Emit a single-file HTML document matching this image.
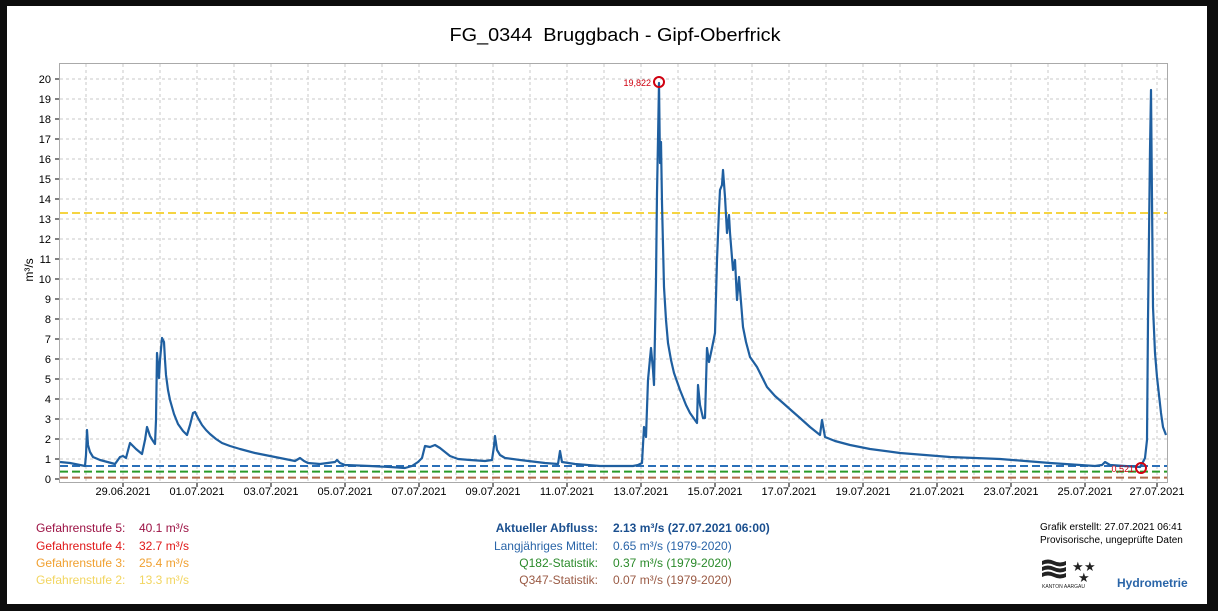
<!DOCTYPE html>
<html><head><meta charset="utf-8"><style>
html,body{margin:0;padding:0;background:#0d0d0d;}
svg{display:block;font-family:"Liberation Sans",Arial,sans-serif;}
</style></head><body>
<svg width="1218" height="611" viewBox="0 0 1218 611" xmlns="http://www.w3.org/2000/svg">
<rect x="0" y="0" width="1218" height="611" fill="#0d0d0d"/>
<rect x="7" y="6" width="1200" height="598" fill="#fff"/>
<text x="615" y="41" font-size="18.5" text-anchor="middle" fill="#000" textLength="331" lengthAdjust="spacingAndGlyphs" xml:space="preserve">FG_0344  Bruggbach - Gipf-Oberfrick</text>
<rect x="59.5" y="63.5" width="1108" height="419" fill="#fff" stroke="#aaa" stroke-width="1"/>
<g stroke="#c8c8c8" stroke-width="1" stroke-dasharray="3,3">
<path d="M60 79H1167M60 99H1167M60 119H1167M60 139H1167M60 159H1167M60 179H1167M60 199H1167M60 219H1167M60 239H1167M60 259H1167M60 279H1167M60 299H1167M60 319H1167M60 339H1167M60 359H1167M60 379H1167M60 399H1167M60 419H1167M60 439H1167M60 459H1167"/>
<path d="M86 64V482M123 64V482M160 64V482M197 64V482M234 64V482M271 64V482M308 64V482M345 64V482M382 64V482M419 64V482M456 64V482M493 64V482M530 64V482M567 64V482M604 64V482M641 64V482M678 64V482M715 64V482M752 64V482M789 64V482M826 64V482M863 64V482M900 64V482M937 64V482M974 64V482M1011 64V482M1048 64V482M1085 64V482M1122 64V482M1157 64V482"/>
</g>
<g font-size="11" fill="#000" text-anchor="end">
<text x="51" y="83">20</text><text x="51" y="103">19</text><text x="51" y="123">18</text><text x="51" y="143">17</text><text x="51" y="163">16</text><text x="51" y="183">15</text><text x="51" y="203">14</text><text x="51" y="223">13</text><text x="51" y="243">12</text><text x="51" y="263">11</text><text x="51" y="283">10</text><text x="51" y="303">9</text><text x="51" y="323">8</text><text x="51" y="343">7</text><text x="51" y="363">6</text><text x="51" y="383">5</text><text x="51" y="403">4</text><text x="51" y="423">3</text><text x="51" y="443">2</text><text x="51" y="463">1</text><text x="51" y="483">0</text>
</g>
<g stroke="#000" stroke-width="1"><path d="M55 79h4M55 99h4M55 119h4M55 139h4M55 159h4M55 179h4M55 199h4M55 219h4M55 239h4M55 259h4M55 279h4M55 299h4M55 319h4M55 339h4M55 359h4M55 379h4M55 399h4M55 419h4M55 439h4M55 459h4M55 479h4"/>
<path d="M123 483v4M197 483v4M271 483v4M345 483v4M419 483v4M493 483v4M567 483v4M641 483v4M715 483v4M789 483v4M863 483v4M937 483v4M1011 483v4M1085 483v4M1157 483v4"/></g>
<text transform="translate(33,270) rotate(-90)" font-size="12" text-anchor="middle">m³/s</text>
<g font-size="11" text-anchor="middle" fill="#000">
<text x="123" y="495">29.06.2021</text><text x="197" y="495">01.07.2021</text><text x="271" y="495">03.07.2021</text><text x="345" y="495">05.07.2021</text><text x="419" y="495">07.07.2021</text><text x="493" y="495">09.07.2021</text><text x="567" y="495">11.07.2021</text><text x="641" y="495">13.07.2021</text><text x="715" y="495">15.07.2021</text><text x="789" y="495">17.07.2021</text><text x="863" y="495">19.07.2021</text><text x="937" y="495">21.07.2021</text><text x="1011" y="495">23.07.2021</text><text x="1085" y="495">25.07.2021</text><text x="1157" y="495">27.07.2021</text>
</g>
<g stroke-width="2" stroke-dasharray="8,4" fill="none">
<path d="M60 213H1167" stroke="#f5d442"/>
<path d="M60 466H1167" stroke="#2a6fb8"/>
<path d="M60 471.6H1167" stroke="#2a9a2a"/>
<path d="M60 477.6H1167" stroke="#b06a4a"/>
</g>
<polyline fill="none" stroke="#1f5fa0" stroke-width="2.2" stroke-linejoin="round" points="60,462 70,463 85,466 86,455 87,430 88,445 90,452 93,457 100,460 115,464 120,457 123,456 126,458 130,443 133,446 136,449 142,454 145,440 147,427 150,436 153,441 155,444 156,420 157,353 159,378 160,360 162,338 164,342 165,360 166,375 168,390 170,400 174,414 178,424 183,431 187,435 190,425 193,413 195,412 198,418 202,425 206,430 210,434 216,439 222,443 230,446 240,449 255,453 275,457 295,461 300,458 304,461 308,463 320,464 335,462 337,460 340,463 345,465 370,466 390,467 405,468 412,466 418,462 422,458 425,446 430,447 435,445 440,448 445,452 450,456 458,459 470,460 485,461 492,460 494,446 495,436 497,450 500,455 505,458 520,460 545,463 558,464 560,451 562,462 575,464 600,466 633,466 638,465 642,463 644,427 646,437 648,380 651,348 653,370 654,385 656,280 657,193 658,140 659,83 660,163 661,142 662,203 664,287 666,320 668,343 671,360 674,373 680,390 686,405 690,413 697,423 698,385 700,405 703,418 705,418 707,348 709,362 712,348 715,333 717,260 719,210 720,190 722,185 723,170 725,197 727,233 729,215 730,233 733,270 735,260 737,300 739,277 743,327 746,342 750,357 757,367 762,377 767,387 775,396 783,403 792,411 800,418 810,427 820,435 822,420 825,437 835,441 850,445 870,449 900,453 950,457 1000,459 1050,463 1095,466 1102,465 1105,462 1110,465 1140,467 1143,462 1145,458 1147,440 1148,320 1150,150 1151,90 1152,200 1153,307 1155,353 1157,377 1159,395 1161,413 1163,427 1166,435"/>
<circle cx="659" cy="82" r="5" fill="none" stroke="#d00010" stroke-width="2"/>
<text x="651" y="86" font-size="9" fill="#d00010" text-anchor="end">19,822</text>
<circle cx="1141" cy="468" r="5" fill="none" stroke="#d00010" stroke-width="2"/>
<text x="1134" y="472" font-size="9" fill="#d00010" text-anchor="end">0,521</text>
<g font-size="12">
<text x="36" y="532" fill="#9c1244">Gefahrenstufe 5:</text><text x="139" y="532" fill="#9c1244">40.1 m³/s</text>
<text x="36" y="550" fill="#e01818">Gefahrenstufe 4:</text><text x="139" y="550" fill="#e01818">32.7 m³/s</text>
<text x="36" y="567" fill="#f0a030">Gefahrenstufe 3:</text><text x="139" y="567" fill="#f0a030">25.4 m³/s</text>
<text x="36" y="584" fill="#f2d560">Gefahrenstufe 2:</text><text x="139" y="584" fill="#f2d560">13.3 m³/s</text>
</g>
<g font-size="12">
<text x="598" y="532" text-anchor="end" fill="#1a4f8f" font-weight="bold">Aktueller Abfluss:</text><text x="613" y="532" fill="#1a4f8f" font-weight="bold">2.13 m³/s (27.07.2021 06:00)</text>
<text x="598" y="550" text-anchor="end" fill="#2a65a8">Langjähriges Mittel:</text><text x="613" y="550" fill="#2a65a8">0.65 m³/s (1979-2020)</text>
<text x="598" y="567" text-anchor="end" fill="#2a8a2a">Q182-Statistik:</text><text x="613" y="567" fill="#2a8a2a">0.37 m³/s (1979-2020)</text>
<text x="598" y="584" text-anchor="end" fill="#9a5a44">Q347-Statistik:</text><text x="613" y="584" fill="#9a5a44">0.07 m³/s (1979-2020)</text>
</g>
<g font-size="10" fill="#000">
<text x="1040" y="530">Grafik erstellt: 27.07.2021 06:41</text>
<text x="1040" y="543">Provisorische, ungeprüfte Daten</text>
</g>
<g fill="#222">
<path d="M1042 561q6-3 12 0t12 0v4q-6 3-12 0t-12 0z"/>
<path d="M1042 567q6-3 12 0t12 0v4q-6 3-12 0t-12 0z"/>
<path d="M1042 573q6-3 12 0t12 0v4q-6 3-12 0t-12 0z"/>
<text x="1072" y="571" font-size="13">★</text><text x="1084" y="571" font-size="13">★</text><text x="1078" y="582" font-size="13">★</text>
<text x="1042" y="588" font-size="5">KANTON AARGAU</text>
</g>
<text x="1117" y="587" font-size="12" font-weight="bold" fill="#2a65a8">Hydrometrie</text>
</svg>
</body></html>
